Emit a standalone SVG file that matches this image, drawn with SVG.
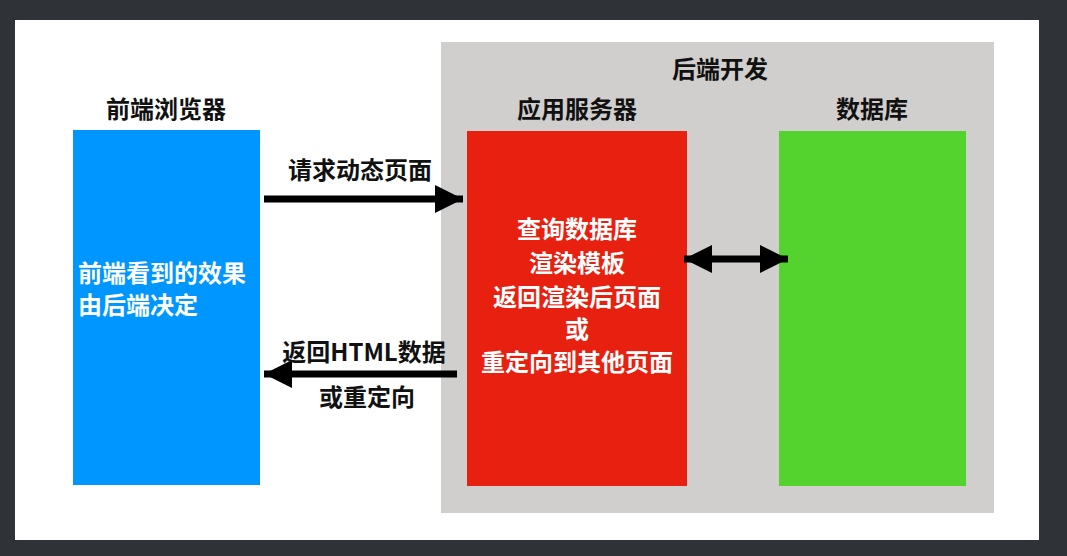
<svg xmlns="http://www.w3.org/2000/svg" width="1067" height="556" viewBox="0 0 1067 556">
<defs>
<style>
text{font-family:"Noto Sans CJK SC","Liberation Sans",sans-serif;font-weight:bold;font-size:24px;text-anchor:middle;dominant-baseline:central;fill:#111}
.w{fill:#fff}
.conn{stroke:#000;stroke-width:7;fill:none}
</style>
<marker id="ah" viewBox="0 0 10 10" refX="10" refY="5" markerWidth="4" markerHeight="4" markerUnits="strokeWidth" orient="auto-start-reverse">
<path d="M0,0 L10,5 L0,10 z" fill="#000"/>
</marker>
</defs>
<rect x="0" y="0" width="1067" height="556" fill="#2f3337"/>
<rect x="15" y="20" width="1024" height="520" fill="#fff"/>
<g id="backend">
<rect x="441" y="42" width="553" height="471" fill="#d0cfce"/>
<text x="720" y="67">后端开发</text>
</g>
<g id="browser">
<text x="166" y="107">前端浏览器</text>
<rect x="73" y="130" width="187" height="355" fill="#0096ff"/>
<text x="78" y="271" class="w" style="text-anchor:start">前端看到的效果</text>
<text x="78" y="303.5" class="w" style="text-anchor:start">由后端决定</text>
</g>
<g id="appserver">
<text x="577" y="107">应用服务器</text>
<rect x="467" y="131" width="220" height="355" fill="#e8200f"/>
<text x="577" y="227" class="w">查询数据库</text>
<text x="577" y="261" class="w">渲染模板</text>
<text x="577" y="295" class="w">返回渲染后页面</text>
<text x="577" y="327" class="w">或</text>
<text x="577" y="360" class="w">重定向到其他页面</text>
</g>
<g id="database">
<text x="872" y="107">数据库</text>
<rect x="779" y="131" width="187" height="355" fill="#54d22d"/>
</g>
<g id="connectors">
<line x1="264" y1="199" x2="463" y2="199" class="conn" marker-end="url(#ah)"/>
<text x="360" y="168">请求动态页面</text>
<line x1="457" y1="374" x2="264" y2="374" class="conn" marker-end="url(#ah)"/>
<text x="364" y="350">返回HTML数据</text>
<text x="367" y="395">或重定向</text>
<line x1="684" y1="259" x2="788" y2="259" class="conn" marker-start="url(#ah)" marker-end="url(#ah)"/>
</g>
</svg>
